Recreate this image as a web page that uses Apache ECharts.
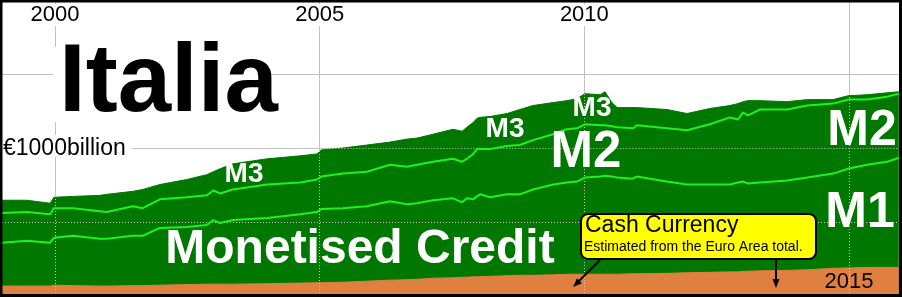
<!DOCTYPE html>
<html>
<head>
<meta charset="utf-8">
<script src="https://cdn.jsdelivr.net/npm/echarts@6/dist/echarts.min.js"></script>
<style>
html,body{margin:0;padding:0;background:#fff;}
#c{width:902px;height:297px;}
</style>
</head>
<body>
<div id="c"></div>
<script>
// decimal years (monthly-ish readings)
const dates = [1999.00, 1999.47, 1999.91, 1999.98, 2000.34, 2000.85, 2000.98, 2001.47, 2001.66, 2001.98,
  2002.49, 2002.87, 2002.99, 2003.12, 2003.36, 2004.01, 2004.63, 2004.95, 2005.03, 2005.44,
  2005.89, 2006.33, 2006.65, 2006.84, 2007.14, 2007.52, 2007.69, 2007.78, 2007.90, 2007.97,
  2008.03, 2008.22, 2008.54, 2008.78, 2009.03, 2009.41, 2009.67, 2009.86, 2010.01, 2010.30,
  2010.39, 2010.52, 2010.62, 2010.92, 2010.99, 2011.56, 2011.94, 2012.37, 2012.75, 2012.90,
  2013.00, 2013.09, 2013.32, 2013.83, 2014.21, 2014.70, 2014.98, 2015.34, 2015.72, 2015.94];
// € billion, cumulative totals
const m3 = [647, 647, 627, 667, 673, 680, 687, 707, 720, 753,
  787, 820, 840, 860, 893, 927, 947, 960, 987, 1000,
  1020, 1040, 1060, 1067, 1093, 1127, 1113, 1140, 1173, 1200,
  1207, 1213, 1233, 1260, 1287, 1307, 1320, 1333, 1367, 1360,
  1380, 1307, 1273, 1273, 1273, 1260, 1233, 1267, 1287, 1300,
  1313, 1320, 1320, 1313, 1327, 1327, 1353, 1360, 1373, 1380];
const m2 = [560, 567, 553, 593, 593, 573, 567, 607, 593, 653,
  667, 680, 713, 693, 720, 753, 767, 787, 807, 827,
  840, 887, 873, 887, 907, 927, 907, 927, 960, 993,
  993, 993, 1013, 1020, 1053, 1093, 1127, 1133, 1160, 1153,
  1153, 1147, 1140, 1133, 1153, 1133, 1120, 1160, 1207, 1193,
  1240, 1220, 1260, 1260, 1287, 1300, 1327, 1327, 1347, 1367];
const m1 = [360, 373, 360, 393, 407, 387, 387, 407, 407, 460,
  467, 480, 513, 493, 513, 527, 553, 567, 587, 593,
  607, 640, 620, 627, 647, 660, 633, 660, 653, 673,
  687, 667, 687, 687, 720, 753, 767, 773, 800, 807,
  813, 807, 800, 793, 807, 773, 753, 753, 753, 767,
  773, 760, 767, 780, 800, 827, 860, 887, 907, 933];
const cash = [67, 67, 67, 73, 70, 67, 67, 70, 70, 73,
  77, 80, 80, 80, 80, 83, 87, 90, 90, 93,
  100, 107, 110, 113, 120, 123, 127, 127, 130, 130,
  130, 133, 137, 140, 140, 143, 147, 147, 147, 147,
  147, 147, 147, 150, 150, 153, 157, 160, 163, 163,
  167, 167, 170, 173, 177, 187, 190, 193, 193, 193];
const gridYears = [2000, 2005, 2010, 2015];
const topYearLabels = [2000, 2005, 2010];
const yTicks = [0, 500, 1000, 1500, 2000];

const FONT = '"Liberation Sans", Arial, sans-serif';
const zip = a => dates.map((d, i) => [d, a[i]]);
const DARK = '#007800', LIGHT = '#1ff01f', ORANGE = '#e08040';

const chart = echarts.init(document.getElementById('c'), null, {renderer: 'canvas'});

const dotted = [];
gridYears.forEach(y => dotted.push([{coord: [y, 0]}, {coord: [y, y === 2000 ? 900 : 1500]}]));
dotted.push([{coord: [1999, 500]}, {coord: [2016, 500]}]);
dotted.push([{coord: [2001.5, 1000]}, {coord: [2016, 1000]}]);

function txt(text, x, y, size, opts) {
  opts = opts || {};
  return {
    type: 'text', z: 100, silent: true,
    style: {
      text: text, x: x, y: y,
      font: (opts.bold === false ? '' : 'bold ') + size + 'px ' + FONT,
      fill: opts.fill || '#fff',
      align: opts.align || 'center', verticalAlign: 'middle'
    }
  };
}

chart.setOption({
  animation: false,
  grid: {left: 2, right: 0, top: -4, bottom: 1, containLabel: false},
  xAxis: [{
    type: 'value', min: 1999, max: 2016, position: 'bottom',
    axisLine: {show: false},
    axisTick: {show: false, customValues: gridYears},
    axisLabel: {show: false, customValues: gridYears},
    splitLine: {show: true, lineStyle: {color: '#c0c0c0', width: 1}}
  }, {
    type: 'value', min: 1999, max: 2016, position: 'top', z: 1,
    axisLine: {show: false},
    axisTick: {show: false, customValues: topYearLabels},
    splitLine: {show: false},
    axisLabel: {show: true, inside: true, customValues: topYearLabels, margin: 4,
      formatter: v => String(Math.round(v)),
      fontSize: 22, fontFamily: FONT, color: '#000', backgroundColor: '#fff', padding: [0, 2, 0, 2]}
  }],
  yAxis: {
    type: 'value', min: yTicks[0], max: yTicks[yTicks.length - 1], interval: 500,
    axisLine: {show: false}, axisTick: {show: false}, axisLabel: {show: false},
    splitLine: {show: true, lineStyle: {color: '#c0c0c0', width: 1}}
  },
  series: [{
    name: 'M3', type: 'line', data: zip(m3), showSymbol: false, silent: true, z: 2,
    lineStyle: {color: DARK, width: 1}, areaStyle: {color: DARK, opacity: 1}
  }, {
    name: 'Cash', type: 'line', data: zip(cash), showSymbol: false, silent: true, z: 3,
    lineStyle: {color: ORANGE, width: 1}, areaStyle: {color: ORANGE, opacity: 1}
  }, {
    name: 'grid', type: 'line', data: [], z: 4, silent: true,
    markLine: {silent: true, symbol: 'none', label: {show: false},
      lineStyle: {color: '#c8c8c8', width: 1, type: [1, 2]}, data: dotted}
  }, {
    name: 'M2', type: 'line', data: zip(m2), showSymbol: false, silent: true, z: 5,
    lineStyle: {color: LIGHT, width: 2}
  }, {
    name: 'M1', type: 'line', data: zip(m1), showSymbol: false, silent: true, z: 5,
    lineStyle: {color: LIGHT, width: 2}
  }],
  graphic: [
    {type: 'rect', z: 1, silent: true, shape: {x: 53, y: 47, width: 217, height: 75}, style: {fill: '#fff'}},
    {type: 'rect', z: 1, silent: true, shape: {x: 0, y: 135, width: 132, height: 22}, style: {fill: '#fff'}},
    txt('Italia', 59, 85, 96, {fill: '#000', align: 'left'}),
    txt('€1000billion', 3, 148.5, 23, {fill: '#000', align: 'left', bold: false}),
    txt('M3', 244, 174, 28),
    txt('M3', 505, 129, 28),
    txt('M3', 592, 108, 28),
    txt('M2', 586, 153, 51),
    txt('M2', 862, 131, 50),
    txt('M1', 860, 213, 50),
    txt('Monetised Credit', 360, 250, 48),
    txt('2015', 849, 282, 22, {fill: '#000', bold: false}),
    {type: 'rect', z: 100, silent: true, shape: {x: 581, y: 214, width: 235, height: 45, r: 7},
      style: {fill: '#ffff00', stroke: '#000', lineWidth: 2}},
    txt('Cash Currency', 585, 225.5, 23, {fill: '#000', align: 'left', bold: false}),
    txt('Estimated from the Euro Area total.', 584, 247, 14, {fill: '#000', align: 'left', bold: false}),
    {type: 'line', z: 100, silent: true, shape: {x1: 600, y1: 260, x2: 577, y2: 283}, style: {stroke: '#000', lineWidth: 2}},
    {type: 'polygon', z: 100, silent: true, shape: {points: [[573, 287], [581.9, 283.3], [577.1, 278.3]]}, style: {fill: '#000'}},
    {type: 'line', z: 100, silent: true, shape: {x1: 776, y1: 260, x2: 776, y2: 282}, style: {stroke: '#000', lineWidth: 2}},
    {type: 'polygon', z: 100, silent: true, shape: {points: [[776, 288], [772.5, 279], [779.5, 279]]}, style: {fill: '#000'}},
    {type: 'rect', z: 200, silent: true, shape: {x: 1, y: 1, width: 899.5, height: 294.5},
      style: {fill: 'none', stroke: '#000', lineWidth: 3}}
  ]
});
</script>
</body>
</html>
